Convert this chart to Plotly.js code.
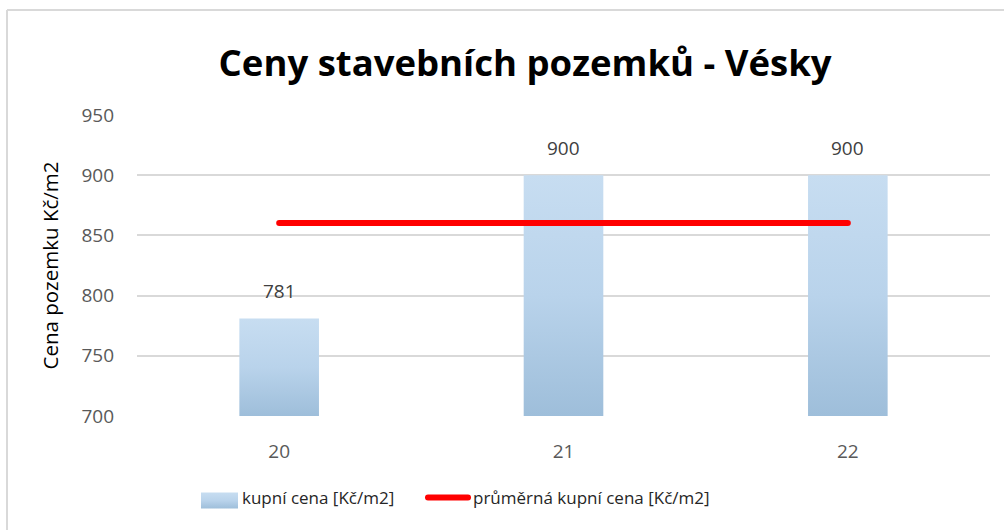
<!DOCTYPE html>
<html>
<head>
<meta charset="utf-8">
<script src="https://cdn.plot.ly/plotly-3.0.1.min.js"></script>
<style>
  html, body { margin: 0; padding: 0; background: #fff; }
  #chart { width: 1004px; height: 530px; }
</style>
</head>
<body>
<div id="chart"></div>
<script>
// ---- data ----
const categories = ["20", "21", "22"];
const purchasePrice = [781, 900, 900];
const averagePrice = [860.33, 860.33, 860.33];
const yTicks = [700, 750, 800, 850, 900, 950];

const seriesNames = ["kupní cena [Kč/m2]", "průměrná kupní cena [Kč/m2]"];
const chartTitle = "Ceny stavebních pozemků - Vésky";
const yAxisTitle = "Cena pozemku Kč/m2";

const FONT = "Open Sans, Noto Sans, sans-serif";
const BAR_STOPS = [["0%", "#c7ddf1"], ["50%", "#b9d3eb"], ["100%", "#9ebeda"]];

const traces = [
  {
    type: "bar",
    name: seriesNames[0],
    x: categories,
    y: purchasePrice,
    width: 0.28,
    marker: { color: "#b7d1ea", line: { width: 0 } },
    legend: "legend",
    hoverinfo: "x+y"
  },
  {
    type: "scatter",
    mode: "lines",
    name: seriesNames[1],
    x: categories,
    y: averagePrice,
    line: { color: "#ff0000", width: 6 },
    legend: "legend2",
    hoverinfo: "x+y"
  }
];

const labelAnnotations = categories.map((c, i) => ({
  x: i, y: purchasePrice[i], xref: "x", yref: "y",
  text: String(purchasePrice[i]), showarrow: false,
  yanchor: "middle", yshift: 27,
  font: { family: FONT, size: 19, color: "#404040" }
}));

const legendFont = { family: FONT, size: 17, color: "#262626" };

const layout = {
  width: 1004, height: 530,
  paper_bgcolor: "#ffffff", plot_bgcolor: "#ffffff",
  margin: { l: 137, r: 14, t: 115, b: 114 },
  font: { family: FONT, color: "#595959" },
  title: {
    text: "<b>" + chartTitle + "</b>",
    font: { family: FONT, size: 36.5, color: "#000000" },
    xref: "container", x: 0.523, xanchor: "center",
    yref: "container", y: 1 - 63 / 530, yanchor: "middle"
  },
  xaxis: {
    type: "category",
    categoryorder: "array", categoryarray: categories,
    range: [-0.5, 2.5], autorange: false,
    showgrid: false, zeroline: false,
    showline: false, ticks: "",
    tickfont: { family: FONT, size: 19, color: "#595959" },
    ticklabelstandoff: 22
  },
  yaxis: {
    range: [700, 950], autorange: false,
    tickvals: yTicks,
    showgrid: true, gridcolor: "#d9d9d9", gridwidth: 2,
    zeroline: false, showline: false, ticks: "",
    tickfont: { family: FONT, size: 19, color: "#595959" },
    ticklabelstandoff: 22,
    title: { text: yAxisTitle, font: { family: FONT, size: 20.5, color: "#000000" }, standoff: 17 }
  },
  showlegend: true,
  legend: {
    orientation: "h",
    xref: "container", x: 192 / 1004, xanchor: "left",
    yref: "container", y: 1 - 498 / 530, yanchor: "middle",
    font: legendFont, itemwidth: 40
  },
  legend2: {
    orientation: "h",
    xref: "container", x: 423 / 1004, xanchor: "left",
    yref: "container", y: 1 - 498 / 530, yanchor: "middle",
    font: legendFont, itemwidth: 40
  },
  annotations: labelAnnotations,
  shapes: [
    { type: "line", xref: "paper", yref: "paper",
      x0: (7 - 137) / 853, x1: (1004 - 137) / 853,
      y0: (416 - 10) / 301, y1: (416 - 10) / 301,
      line: { color: "#d9d9d9", width: 2 } },
    { type: "line", xref: "paper", yref: "paper",
      x0: (7 - 137) / 853, x1: (7 - 137) / 853,
      y0: (416 - 10) / 301, y1: (416 - 530) / 301,
      line: { color: "#d9d9d9", width: 2 } }
  ]
};

function decorate(gd) {
  const ns = "http://www.w3.org/2000/svg";
  const svg = gd.querySelector("svg.main-svg");
  const defs = document.createElementNS(ns, "defs");
  svg.insertBefore(defs, svg.firstChild);
  const plotH = gd._fullLayout._size.h;
  let n = 0;
  const applyGrad = (p, clipBottom) => {
    const bb = p.getBBox();
    const y1 = bb.y;
    const y2 = clipBottom ? Math.min(bb.y + bb.height, plotH) : bb.y + bb.height;
    const id = "barGrad" + (n++);
    const grad = document.createElementNS(ns, "linearGradient");
    grad.setAttribute("id", id);
    grad.setAttribute("gradientUnits", "userSpaceOnUse");
    grad.setAttribute("x1", bb.x); grad.setAttribute("x2", bb.x);
    grad.setAttribute("y1", y1); grad.setAttribute("y2", y2);
    BAR_STOPS.forEach(([o, c]) => {
      const s = document.createElementNS(ns, "stop");
      s.setAttribute("offset", o); s.setAttribute("stop-color", c);
      grad.appendChild(s);
    });
    defs.appendChild(grad);
    p.style.setProperty("fill", "url(#" + id + ")");
  };
  gd.querySelectorAll(".barlayer .point path").forEach(p => applyGrad(p, true));
  gd.querySelectorAll(".legendpoints path.legendundefined").forEach(p => {
    p.setAttribute("d", "M21,11H-16V-5H21Z");
    applyGrad(p, false);
  });
  gd.querySelectorAll(".scatterlayer .js-line, .legendpoints .js-line, .legendlines path").forEach(p => {
    p.style.strokeLinecap = "round";
  });
}

Plotly.newPlot("chart", traces, layout, { displayModeBar: false, staticPlot: true }).then(decorate);
</script>
</body>
</html>
